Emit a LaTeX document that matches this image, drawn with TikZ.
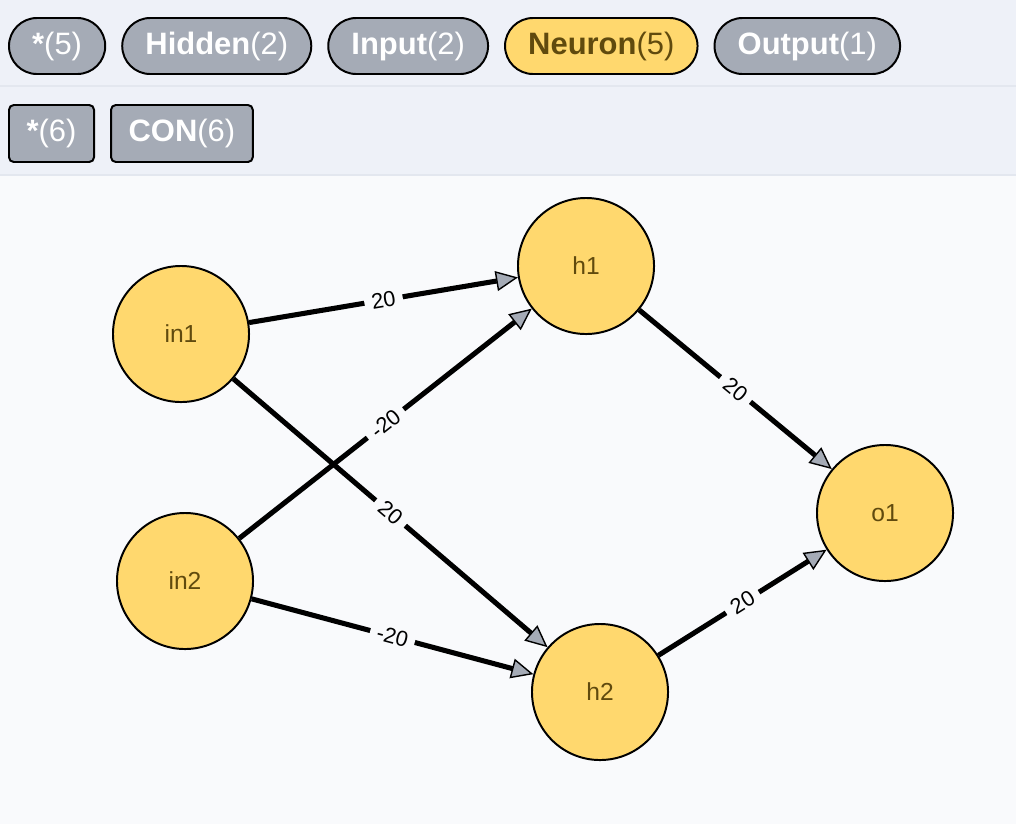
\documentclass[tikz,border=0pt]{standalone}
\usepackage{fontspec}
\setmainfont{Liberation Sans}
\usetikzlibrary{arrows.meta, positioning}

\definecolor{pagebg}{HTML}{F9FAFC}
\definecolor{barbg}{HTML}{EEF1F8}
\definecolor{barline}{HTML}{E3E7EF}
\definecolor{labelgray}{HTML}{A5ABB6}
\definecolor{neuronfill}{HTML}{FFD86E}
\definecolor{neurontext}{HTML}{604A0E}

\begin{document}
\begin{tikzpicture}[x=0.025cm, y=-0.025cm,
					pillnode/.style={rectangle,
					rounded corners=0.7cm,
					line width=1.4pt,
					minimum height=1.4cm,
					inner xsep=0.58cm,
					inner ysep=0pt,
					draw=black,
					fill=labelgray,
					text=white,
					font=\fontsize{22}{26}\selectfont},
					relnode/.style={rectangle,
					rounded corners=0.12cm,
					line width=1.4pt,
					minimum height=1.425cm,
					inner xsep=0.44cm,
					inner ysep=0pt,
					draw=black,
					fill=labelgray,
					text=white,
					font=\fontsize{22}{26}\selectfont},
					neuron/.style={circle,
					minimum size=3.4cm,
					line width=1.4pt,
					draw=black,
					fill=neuronfill,
					text=neurontext,
					font=\fontsize{17.5}{20}\selectfont},
					synapse/.style={line width=3.6pt,
					-{Triangle[length=0.55cm, width=0.5cm, line width=1pt, fill=labelgray]}},
					weight/.style={midway,
					sloped,
					fill=pagebg,
					inner xsep=0.18cm,
					inner ysep=0pt,
					text=black,
					font=\fontsize{15.5}{18}\selectfont}
					]

% page and the two label bars
\useasboundingbox (0,0) rectangle (1016,824);
\fill[pagebg] (0,0) rectangle (1016,824);
\fill[barbg] (0,0) rectangle (1016,175);
\draw[barline, line width=1.4pt] (0,86) -- (1016,86);
\draw[barline, line width=1.4pt] (0,175) -- (1016,175);

% node labels
\node[pillnode, anchor=west] (allnodes) at (8,46) {\textbf{*}(5)};
\node[pillnode] (hidden) [right=0.375cm of allnodes] {\textbf{Hidden}(2)};
\node[pillnode] (input) [right=0.375cm of hidden] {\textbf{Input}(2)};
\node[pillnode, fill=neuronfill, text=neurontext] (neuronlbl) [right=0.375cm of input] {\textbf{Neuron}(5)};
\node[pillnode] (output) [right=0.375cm of neuronlbl] {\textbf{Output}(1)};

% relationship types
\node[relnode, anchor=west] (allrels) at (8,133.5) {\textbf{*}(6)};
\node[relnode] (con) [right=0.375cm of allrels] {\textbf{CON}(6)};

% neurons
\node[neuron] (in1) at (181,334) {in1};
\node[neuron] (in2) at (185,581) {in2};
\node[neuron] (h1) at (586,266) {h1};
\node[neuron] (h2) at (600,692) {h2};
\node[neuron] (o1) at (885,513) {o1};

% connections
\path[synapse] (in1) edge node[weight] {20} (h1);
\path[synapse] (in1) edge node[weight] {20} (h2);
\path[synapse] (in2) edge node[weight] {-20} (h1);
\path[synapse] (in2) edge node[weight] {-20} (h2);
\path[synapse] (h1) edge node[weight] {20} (o1);
\path[synapse] (h2) edge node[weight] {20} (o1);

\end{tikzpicture}
\end{document}
